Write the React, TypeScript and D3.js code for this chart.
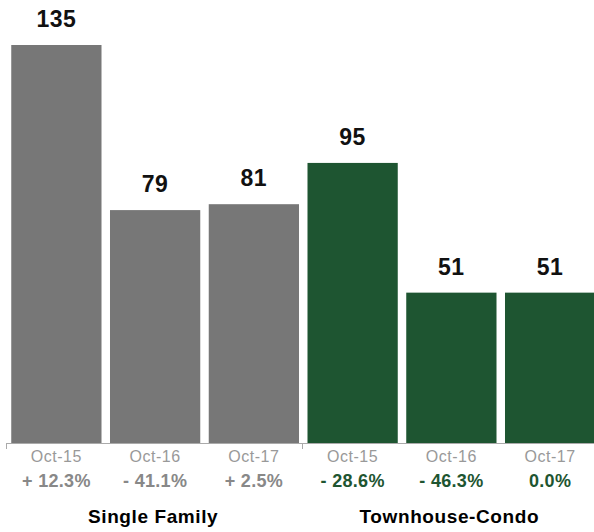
import React from "react";
import * as d3 from "d3";

const groups = ["Single Family", "Townhouse-Condo"];
const periods = ["Oct-15", "Oct-16", "Oct-17"];
const singleFamily = [135, 79, 81];
const townhouseCondo = [95, 51, 51];
const singleFamilyChange = ["+ 12.3%", "- 41.1%", "+ 2.5%"];
const townhouseCondoChange = ["- 28.6%", "- 46.3%", "0.0%"];

const W = 594;
const H = 532;
const GRAY = "#777777";
const GREEN = "#1e5531";
const FONT = "Helvetica, Arial, 'Liberation Sans', sans-serif";

export default function App() {
  const series = [
    { name: groups[0], values: singleFamily, changes: singleFamilyChange, color: GRAY, changeColor: "#888888" },
    { name: groups[1], values: townhouseCondo, changes: townhouseCondoChange, color: GREEN, changeColor: GREEN },
  ];
  const items = series.flatMap((s, gi) =>
    s.values.map((v, i) => ({ key: `${gi}-${i}`, gi, period: periods[i], value: v, change: s.changes[i], color: s.color, changeColor: s.changeColor }))
  );
  const x = d3.scaleBand<string>().domain(items.map((d) => d.key)).range([7, 599.5]).paddingInner(0.086).paddingOuter(0.043);
  const y = d3.scaleLinear().domain([0, 135]).range([443, 45]);
  const gx = d3.scaleBand<string>().domain(groups).range([7, 599.5]);

  return (
    <svg width={W} height={H} style={{ position: "absolute", left: 0, top: 0 }} fontFamily={FONT}>
      <rect width={W} height={H} fill="#fff" />
      {items.map((d) => (
        <g key={d.key}>
          <rect x={x(d.key)} y={y(d.value)} width={x.bandwidth()} height={y(0) - y(d.value)} fill={d.color} />
          <text x={x(d.key)! + x.bandwidth() / 2} y={y(d.value) - 18} textAnchor="middle" fontWeight="bold" fontSize={23} letterSpacing={0.5} fill="#111">
            {d.value}
          </text>
          <text x={x(d.key)! + x.bandwidth() / 2} y={462} textAnchor="middle" fontSize={16} letterSpacing={0.5} fill="#999">
            {d.period}
          </text>
          <text x={x(d.key)! + x.bandwidth() / 2} y={487} textAnchor="middle" fontSize={18} letterSpacing={0.3} fontWeight="bold" fill={d.changeColor}>
            {d.change}
          </text>
        </g>
      ))}
      <line x1={6.5} x2={W} y1={443.5} y2={443.5} stroke="#aaa" strokeWidth={1} />
      {groups.map((g) => (
        <line key={g} x1={Math.round(gx(g)!) - 0.5} x2={Math.round(gx(g)!) - 0.5} y1={443} y2={449} stroke="#aaa" strokeWidth={1} />
      ))}
      {groups.map((g) => (
        <text key={g} x={gx(g)! + gx.bandwidth() / 2 - 2} y={523} textAnchor="middle" fontSize={19} letterSpacing={0.6} fontWeight="bold" fill="#000">
          {g}
        </text>
      ))}
    </svg>
  );
}
